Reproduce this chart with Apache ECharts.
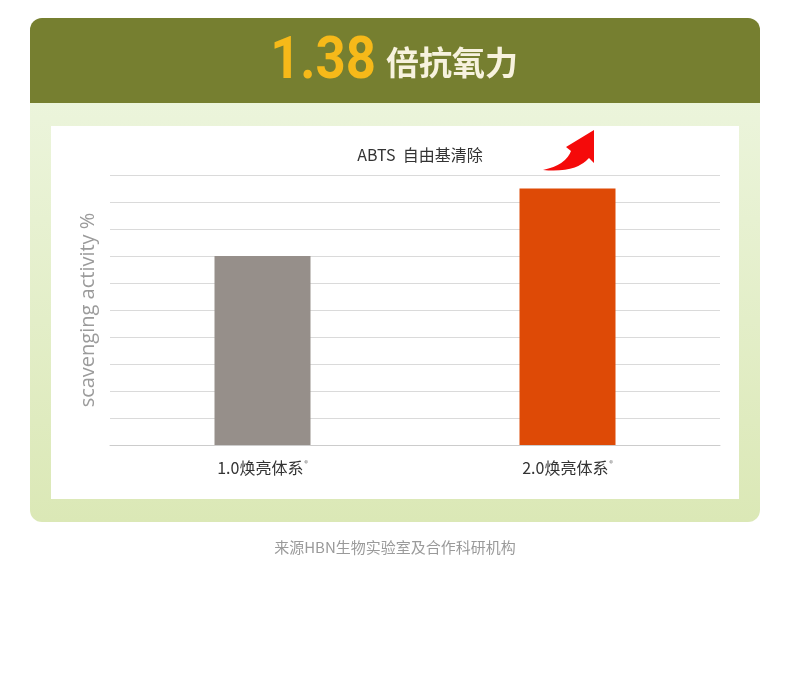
<!DOCTYPE html>
<html><head><meta charset="utf-8">
<script src="https://cdn.jsdelivr.net/npm/echarts@6/dist/echarts.min.js"></script>
<style>html,body{margin:0;padding:0;background:#fff}#c{width:790px;height:687px}</style>
</head><body><div id="c"></div>
<script>
const categories = ['1.0焕亮体系', '2.0焕亮体系'];
const values = [70, 95];
const barColors = ['#968F8A', '#DE4A06'];
const chartTitle = 'ABTS  自由基清除';
const yName = 'scavenging activity %';
const headline = '1.38';
const headlineText = '倍抗氧力';
const footer = '来源HBN生物实验室及合作科研机构';
const FONT = '"Noto Sans CJK SC", "Noto Sans", sans-serif';

echarts.graphic.registerShape('upArrow', echarts.graphic.extendShape({
  shape: {},
  buildPath(ctx) {
    ctx.moveTo(594, 130);
    ctx.lineTo(566, 147);
    ctx.lineTo(571, 151);
    ctx.quadraticCurveTo(566, 165, 543, 170);
    ctx.quadraticCurveTo(576, 173, 589, 158);
    ctx.lineTo(594, 163);
    ctx.closePath();
  }
}));

const chart = echarts.init(document.getElementById('c'));
chart.setOption({
  backgroundColor: '#fff',
  animation: false,
  title: {
    text: chartTitle, left: 415, top: 142, textAlign: 'center',
    textStyle: { fontFamily: FONT, fontSize: 16, fontWeight: 'normal', color: '#333' }
  },
  graphic: [
    { type: 'rect', z: -10, shape: { x: 30, y: 18, width: 730, height: 504, r: 12 },
      style: { fill: new echarts.graphic.LinearGradient(0, 0, 0, 1, [
        { offset: 0, color: '#EFF7E3' }, { offset: 1, color: '#DBE8B6' }]) } },
    { type: 'rect', z: -9, shape: { x: 30, y: 18, width: 730, height: 85, r: [12, 12, 0, 0] },
      style: { fill: '#767F30' } },
    { type: 'rect', z: -8, shape: { x: 51, y: 126, width: 688, height: 373 },
      style: { fill: '#ffffff' } },
    { type: 'text', z: 5, x: 376, y: 63, scaleX: 0.94, scaleY: 1.05,
      style: { text: headline, fill: '#F6B919', font: 'bold 56px Roboto, "Noto Sans", sans-serif',
        textAlign: 'right', textVerticalAlign: 'middle' } },
    { type: 'text', z: 5, x: 386, y: 62,
      style: { text: headlineText, fill: '#F7F2DE', font: 'bold 33px "Noto Sans CJK SC", sans-serif',
        textAlign: 'left', textVerticalAlign: 'middle' } },
    { type: 'upArrow', z: 5, shape: {}, style: { fill: '#F50A0A' } },
    { type: 'text', z: 5, x: 395, y: 547,
      style: { text: footer, fill: '#9A9A9A', font: '15px "Noto Sans CJK SC", sans-serif',
        textAlign: 'center', textVerticalAlign: 'middle' } }
  ],
  grid: { left: 110, right: 70, top: 175, bottom: 242 },
  xAxis: {
    type: 'category', data: categories,
    axisLine: { lineStyle: { color: '#CCCCCC' } },
    axisTick: { show: false },
    axisLabel: {
      margin: 15, color: '#333', fontSize: 16, fontFamily: FONT,
      formatter: v => v + '{s|®}',
      rich: { s: { fontSize: 7, color: '#555', verticalAlign: 'top', padding: [0, 0, 9, 1] } }
    }
  },
  yAxis: {
    type: 'value', min: 0, max: 100, interval: 10,
    name: yName, nameLocation: 'middle', nameGap: 12, nameRotate: 90,
    nameTextStyle: { color: '#9B9B9B', fontSize: 20, fontFamily: '"Open Sans", "Noto Sans", sans-serif' },
    axisLabel: { show: false }, axisLine: { show: false }, axisTick: { show: false },
    splitLine: { lineStyle: { color: '#DADADA' } }
  },
  series: [{
    type: 'bar', barWidth: 96,
    data: values.map((v, i) => ({ value: v, itemStyle: { color: barColors[i] } }))
  }]
});
</script></body></html>
